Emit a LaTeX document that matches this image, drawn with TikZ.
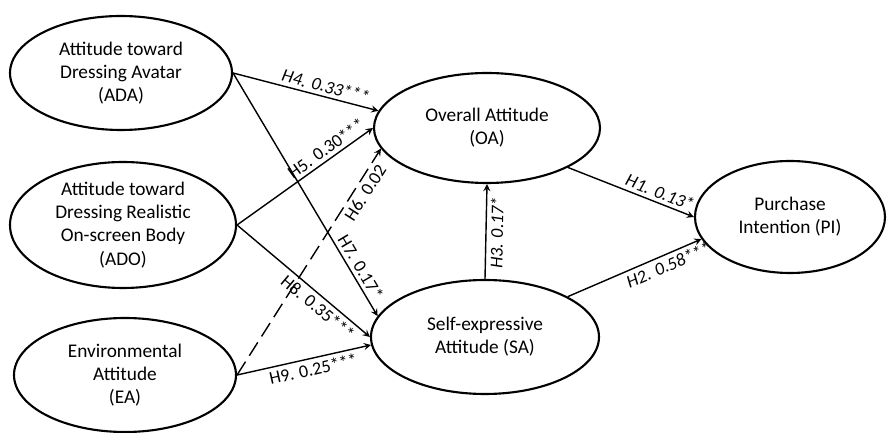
\documentclass[tikz,border=0pt]{standalone}
\usepackage{fontspec}
\setmainfont{Carlito}
\tikzset{>=stealth}
\usetikzlibrary{shapes,positioning}
\tikzset{construct/.style={ellipse,draw,line width=1.2pt,inner sep=0pt,align=center,font=\fontsize{11}{13.2}\selectfont},
	path/.style={->,line width=0.8pt},
	coef/.style={sloped,font=\fontsize{10.3}{12}\selectfont,inner sep=2pt}}

\begin{document}
\begin{tikzpicture}
				\useasboundingbox (0,0) rectangle (17.78,8.66);
				\node[construct,minimum width=4.44cm,minimum height=2.28cm] (ADA) at (2.42,7.20) {Attitude toward\\Dressing Avatar\\(ADA)};
				\node[construct,minimum width=4.52cm,minimum height=2.52cm] (ADO) at (2.46,4.16) {Attitude toward\\Dressing Realistic\\On-screen Body\\(ADO)};
				\node[construct,minimum width=4.44cm,minimum height=2.28cm] (EA) at (2.50,1.16) {Environmental\\Attitude\\(EA)};
				\node[construct,minimum width=4.52cm,minimum height=2.20cm] (OA) at (9.74,6.10) {Overall Attitude\\(OA)};
				\node[construct,minimum width=4.56cm,minimum height=2.28cm] (SA) at (9.70,1.92) {Self-expressive\\Attitude (SA)};
				\node[construct,minimum width=3.80cm,minimum height=2.24cm] (PI) at (15.80,4.32) {Purchase\\Intention (PI)};
				\draw[path] (ADA.east) -- (OA.171) node[coef,above,pos=.62] {\itshape H4. 0.33***};
				\draw[path] (ADO.east) -- (OA.180) node[coef,above,pos=.70] {H5. 0.30***};
				\draw[path,dashed,dash pattern=on 9pt off 4pt] (EA.east) -- (OA.191) node[coef,below,pos=.83] {H6. 0.02};
				\draw[path] (ADA.east) -- (SA.169) node[coef,above,pos=.82] {H7. 0.17*};
				\draw[path] (ADO.east) -- (SA.180) node[coef,below,pos=.66] {H8. 0.35***};
				\draw[path] (EA.east) -- (SA.184) node[coef,below,pos=.55] {H9. 0.25***};
				\draw[path] (SA.north) -- (OA.south) node[coef,below,pos=.49] {\itshape H3. 0.17*};
				\draw[path] (OA.334) -- (PI.west) node[coef,above,pos=.70] {\itshape H1. 0.13*};
				\draw[path] (SA.26) -- (PI.194) node[coef,below,pos=.72] {\itshape H2. 0.58***};
\end{tikzpicture}
\end{document}
